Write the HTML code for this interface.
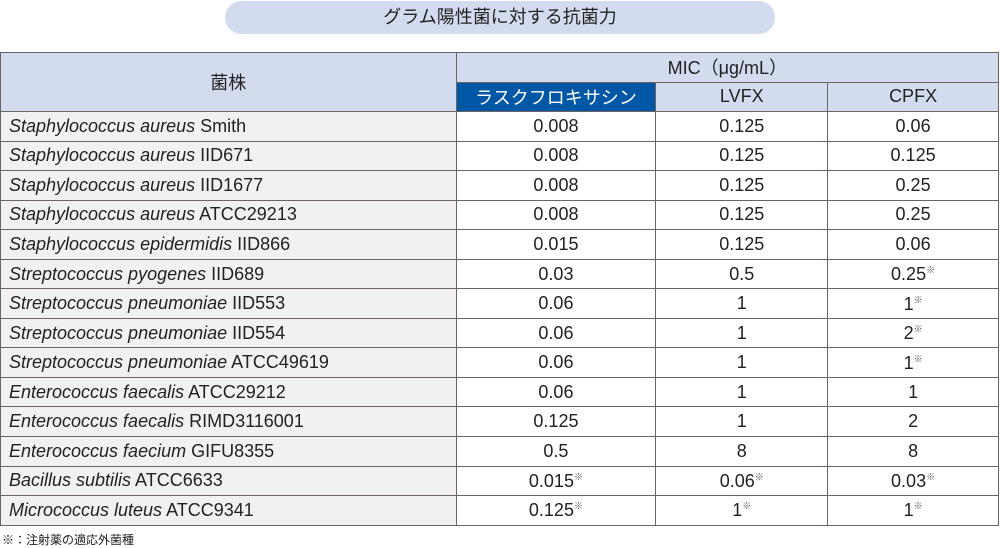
<!DOCTYPE html>
<html><head><meta charset="utf-8"><style>
body{margin:0;width:1000px;height:546px;background:#fff;font-family:"Liberation Sans","Noto Sans CJK JP",sans-serif;color:#222;position:relative;overflow:hidden}
.title{position:absolute;left:225px;top:1px;width:550px;height:33px;background:#d3dcef;border-radius:17px;text-align:center;line-height:33px;font-size:18px}
table{position:absolute;left:0;top:52px;width:999px;border-collapse:collapse;font-size:18px}
td{border:1.5px solid #6b6462;height:28.55px;padding:0;text-align:center}
tr.h td{background:#d3dcef;height:28.5px}
tr.h td.b{background:#0057a6;color:#fff}
td.n{text-align:left;padding-left:8px;background:#f1f1f1}
i{font-style:italic}
sup{font-size:9px;vertical-align:7px;color:#555}
.foot{position:absolute;left:2px;top:531px;font-size:12px}
</style></head><body>
<div class="title">グラム陽性菌に対する抗菌力</div>
<table>
<colgroup><col style="width:456px"><col style="width:200px"><col style="width:172px"><col style="width:171px"></colgroup>
<tr class="h"><td rowspan="2">菌株</td><td colspan="3">MIC（μg/mL）</td></tr>
<tr class="h"><td class="b">ラスクフロキサシン</td><td>LVFX</td><td>CPFX</td></tr>
<tr><td class="n"><i>Staphylococcus aureus</i> Smith</td><td>0.008</td><td>0.125</td><td>0.06</td></tr>
<tr><td class="n"><i>Staphylococcus aureus</i> IID671</td><td>0.008</td><td>0.125</td><td>0.125</td></tr>
<tr><td class="n"><i>Staphylococcus aureus</i> IID1677</td><td>0.008</td><td>0.125</td><td>0.25</td></tr>
<tr><td class="n"><i>Staphylococcus aureus</i> ATCC29213</td><td>0.008</td><td>0.125</td><td>0.25</td></tr>
<tr><td class="n"><i>Staphylococcus epidermidis</i> IID866</td><td>0.015</td><td>0.125</td><td>0.06</td></tr>
<tr><td class="n"><i>Streptococcus pyogenes</i> IID689</td><td>0.03</td><td>0.5</td><td>0.25<sup>※</sup></td></tr>
<tr><td class="n"><i>Streptococcus pneumoniae</i> IID553</td><td>0.06</td><td>1</td><td>1<sup>※</sup></td></tr>
<tr><td class="n"><i>Streptococcus pneumoniae</i> IID554</td><td>0.06</td><td>1</td><td>2<sup>※</sup></td></tr>
<tr><td class="n"><i>Streptococcus pneumoniae</i> ATCC49619</td><td>0.06</td><td>1</td><td>1<sup>※</sup></td></tr>
<tr><td class="n"><i>Enterococcus faecalis</i> ATCC29212</td><td>0.06</td><td>1</td><td>1</td></tr>
<tr><td class="n"><i>Enterococcus faecalis</i> RIMD3116001</td><td>0.125</td><td>1</td><td>2</td></tr>
<tr><td class="n"><i>Enterococcus faecium</i> GIFU8355</td><td>0.5</td><td>8</td><td>8</td></tr>
<tr><td class="n"><i>Bacillus subtilis</i> ATCC6633</td><td>0.015<sup>※</sup></td><td>0.06<sup>※</sup></td><td>0.03<sup>※</sup></td></tr>
<tr><td class="n"><i>Micrococcus luteus</i> ATCC9341</td><td>0.125<sup>※</sup></td><td>1<sup>※</sup></td><td>1<sup>※</sup></td></tr>
</table>
<div class="foot">※：注射薬の適応外菌種</div>
</body></html>
